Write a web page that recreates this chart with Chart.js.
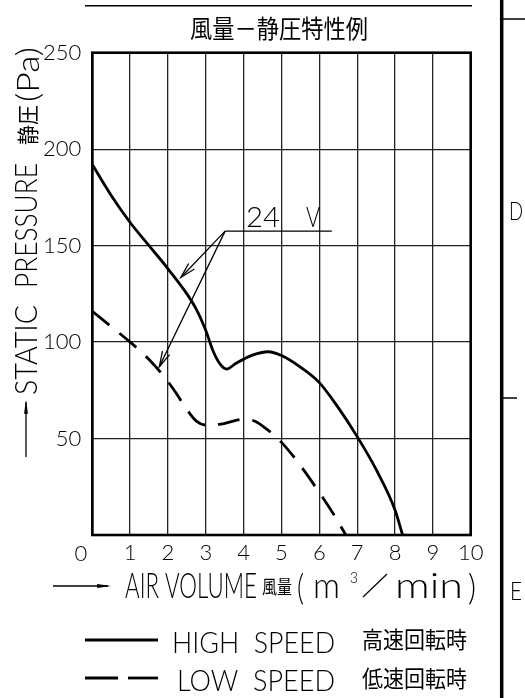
<!DOCTYPE html>
<html>
<head>
<meta charset="utf-8">
<script src="https://cdn.jsdelivr.net/npm/chart.js@4.4.1/dist/chart.umd.min.js"></script>
<style>
  body { margin: 0; background: #fff; }
  #wrap { width: 525px; height: 698px; position: relative; }
</style>
</head>
<body>
<div id="wrap"><canvas id="fanChart"></canvas></div>
<script>
// Données (débit m3/min, pression Pa)
const highX = [0, 0.5, 1, 1.5, 2, 2.5, 2.75, 3, 3.2, 3.4, 3.55, 3.8, 4.2, 4.65, 5, 5.5, 6, 6.5, 7, 7.5, 8, 8.2];
const highY = [192, 176, 162, 150, 138, 125, 117, 106, 95, 88, 86, 89, 93, 95, 93, 87, 79, 66, 51, 34, 13, 0];
const lowX = [0, 0.5, 1, 1.5, 1.9, 2.2, 2.5, 2.75, 3, 3.4, 4, 4.3, 4.6, 5, 5.5, 6, 6.4, 6.7];
const lowY = [116, 108, 100, 91, 82, 74, 65, 59, 57, 57.5, 60, 59, 55, 48, 36, 22, 10, 0];
const xTicks = [0, 1, 2, 3, 4, 5, 6, 7, 8, 9, 10];
const yTicks = [0, 50, 100, 150, 200, 250];
// Repère "24 V" (départ, fin du trait, pointes des flèches)
const voltLabel = '24 V';
const voltStart = [3.51, 157.5];
const voltEnd = [6.33, 157.5];
const voltTips = [[2.34, 133.5], [1.77, 87.2]];

const THIN = "Lato, 'Liberation Sans', sans-serif";
const CJK = "'Noto Sans CJK JP', 'Noto Sans CJK SC', sans-serif";

// texte ajusté à une largeur donnée
function fitText(ctx, text, x, y, w, font, baseline) {
    ctx.save();
    ctx.font = font;
    ctx.textAlign = 'left';
    ctx.textBaseline = baseline || 'alphabetic';
    const m = ctx.measureText(text).width;
    ctx.translate(x, y);
    ctx.scale(w / m, 1);
    ctx.fillText(text, 0, 0);
    ctx.restore();
}

function line(ctx, x1, y1, x2, y2, lw) {
    ctx.lineWidth = lw;
    ctx.beginPath();
    ctx.moveTo(x1, y1);
    ctx.lineTo(x2, y2);
    ctx.stroke();
}

// flèche ouverte (deux petits traits)
function openHead(ctx, fx, fy, tx, ty, len) {
    const a = Math.atan2(ty - fy, tx - fx);
    ctx.lineWidth = 1.3;
    ctx.beginPath();
    ctx.moveTo(tx - len * Math.cos(a - 0.25), ty - len * Math.sin(a - 0.25));
    ctx.lineTo(tx, ty);
    ctx.lineTo(tx - len * Math.cos(a + 0.25), ty - len * Math.sin(a + 0.25));
    ctx.stroke();
}

function filledHead(ctx, fx, fy, tx, ty, len) {
    const a = Math.atan2(ty - fy, tx - fx);
    ctx.beginPath();
    ctx.moveTo(tx, ty);
    ctx.lineTo(tx - len * Math.cos(a - 0.14), ty - len * Math.sin(a - 0.14));
    ctx.lineTo(tx - len * Math.cos(a + 0.14), ty - len * Math.sin(a + 0.14));
    ctx.closePath();
    ctx.fill();
}

const decorPlugin = {
    id: 'decor',
    afterDraw(chart) {
        const ctx = chart.ctx;
        const a = chart.chartArea;
        const xs = chart.scales.x, ys = chart.scales.y;
        ctx.save();
        ctx.strokeStyle = '#000';
        ctx.fillStyle = '#000';

        // cadre du graphique
        ctx.lineWidth = 2.6;
        ctx.strokeRect(a.left, a.top, a.right - a.left, a.bottom - a.top);

        // trait du haut et titre
        line(ctx, 85, 5.7, 472, 5.7, 1.5);
        fitText(ctx, '風量－静圧特性例', 190, 28, 178, '25px ' + CJK, 'middle');

        // bord droit du cartouche
        line(ctx, 501.7, 0, 501.7, 698, 3.5);
        line(ctx, 503, 19, 525, 19, 1.5);
        line(ctx, 503, 398, 517, 398, 1.5);
        fitText(ctx, 'D', 509, 220, 14, '300 25px ' + THIN);
        fitText(ctx, 'E', 510, 600, 12, '300 25px ' + THIN);

        // origine "0"
        ctx.font = '300 22px ' + THIN;
        ctx.textAlign = 'center';
        ctx.textBaseline = 'alphabetic';
        ctx.fillText('0', 81, 561);

        // titre axe Y (tourné)
        line(ctx, 26, 457, 26, 402, 1.3);
        filledHead(ctx, 26, 457, 26, 400, 14);
        ctx.save();
        ctx.translate(37, 395);
        ctx.rotate(-Math.PI / 2);
        fitText(ctx, 'STATIC', 0, 0, 90, '300 31px ' + THIN);
        fitText(ctx, 'PRESSURE', 107, 0, 125, '300 31px ' + THIN);
        fitText(ctx, '静圧', 250, -1, 40, '22px ' + CJK);
        fitText(ctx, '(Pa)', 293, 2, 55, '300 31px ' + THIN);
        ctx.restore();

        // titre axe X
        line(ctx, 53, 586, 108, 586, 1.3);
        filledHead(ctx, 53, 586, 111, 586, 14);
        fitText(ctx, 'AIR VOLUME', 125, 598, 132, '300 35px ' + THIN);
        fitText(ctx, '風量', 262, 587, 30, '19px ' + CJK, 'middle');
        fitText(ctx, '(', 297, 600, 7, '300 35px ' + THIN);
        fitText(ctx, 'm', 313, 598, 27, '300 35px ' + THIN);
        fitText(ctx, '3', 350, 583, 8, '300 16px ' + THIN);
        line(ctx, 363, 597, 387, 574, 1.2);
        fitText(ctx, 'min', 395, 598, 68, '300 35px ' + THIN);
        fitText(ctx, ')', 468, 600, 8, '300 35px ' + THIN);

        // repère 24 V
        const sx = xs.getPixelForValue(voltStart[0]), sy = ys.getPixelForValue(voltStart[1]);
        const ex = xs.getPixelForValue(voltEnd[0]);
        line(ctx, sx, sy, ex, sy, 1.3);
        voltTips.forEach(t => {
            const tx = xs.getPixelForValue(t[0]), ty = ys.getPixelForValue(t[1]);
            line(ctx, sx, sy, tx, ty, 1.3);
            openHead(ctx, sx, sy, tx, ty, 16);
        });
        fitText(ctx, voltLabel.split(' ')[0], 246, 227, 34, '300 28px ' + THIN);
        fitText(ctx, voltLabel.split(' ')[1], 306, 227, 14, '300 28px ' + THIN);

        // légende
        line(ctx, 85, 640, 158, 640, 2.8);
        fitText(ctx, 'HIGH  SPEED', 172, 653, 163, '300 29px ' + THIN);
        fitText(ctx, '高速回転時', 362, 639, 105, '23px ' + CJK, 'middle');
        line(ctx, 85, 678, 118, 678, 2.8);
        line(ctx, 128, 678, 158, 678, 2.8);
        fitText(ctx, 'LOW  SPEED', 177, 691, 158, '300 29px ' + THIN);
        fitText(ctx, '低速回転時', 362, 678, 105, '23px ' + CJK, 'middle');

        ctx.restore();
    }
};

const ctx = document.getElementById('fanChart').getContext('2d');
const data = {
    datasets: [{
        label: 'HIGH SPEED',
        data: highX.map((x, i) => ({ x: x, y: highY[i] })),
        borderColor: '#000',
        borderWidth: 2.8,
        pointRadius: 0,
        showLine: true,
        cubicInterpolationMode: 'monotone'
    }, {
        label: 'LOW SPEED',
        data: lowX.map((x, i) => ({ x: x, y: lowY[i] })),
        borderColor: '#000',
        borderWidth: 2.8,
        borderDash: [22, 13],
        pointRadius: 0,
        showLine: true,
        cubicInterpolationMode: 'monotone'
    }]
};
const config = {
    type: 'scatter',
    data: data,
    plugins: [decorPlugin],
    options: {
        responsive: true,
        maintainAspectRatio: false,
        animation: false,
        layout: { padding: { left: 0, top: 52.7, right: 54.3, bottom: 133 } },
        plugins: { legend: { display: false }, tooltip: { enabled: false } },
        scales: {
            x: {
                type: 'linear', min: 0, max: 10,
                afterBuildTicks: s => { s.ticks = xTicks.map(v => ({ value: v })); },
                afterFit: s => { s.height = 30; },
                ticks: {
                    color: '#000', padding: 5,
                    font: { family: THIN, size: 22, weight: 300 },
                    callback: v => v === 0 ? '' : v
                },
                grid: { color: '#222', lineWidth: 1.3, drawTicks: false },
                border: { display: false }
            },
            y: {
                type: 'linear', min: 0, max: 250,
                afterBuildTicks: s => { s.ticks = yTicks.map(v => ({ value: v })); },
                afterFit: s => { s.width = 92.3; },
                ticks: {
                    color: '#000', padding: 11,
                    font: { family: THIN, size: 22, weight: 300 },
                    callback: v => v === 0 ? '' : v
                },
                grid: { color: '#222', lineWidth: 1.3, drawTicks: false },
                border: { display: false }
            }
        }
    }
};
const fanChart = new Chart(ctx, config);
</script>
</body>
</html>
